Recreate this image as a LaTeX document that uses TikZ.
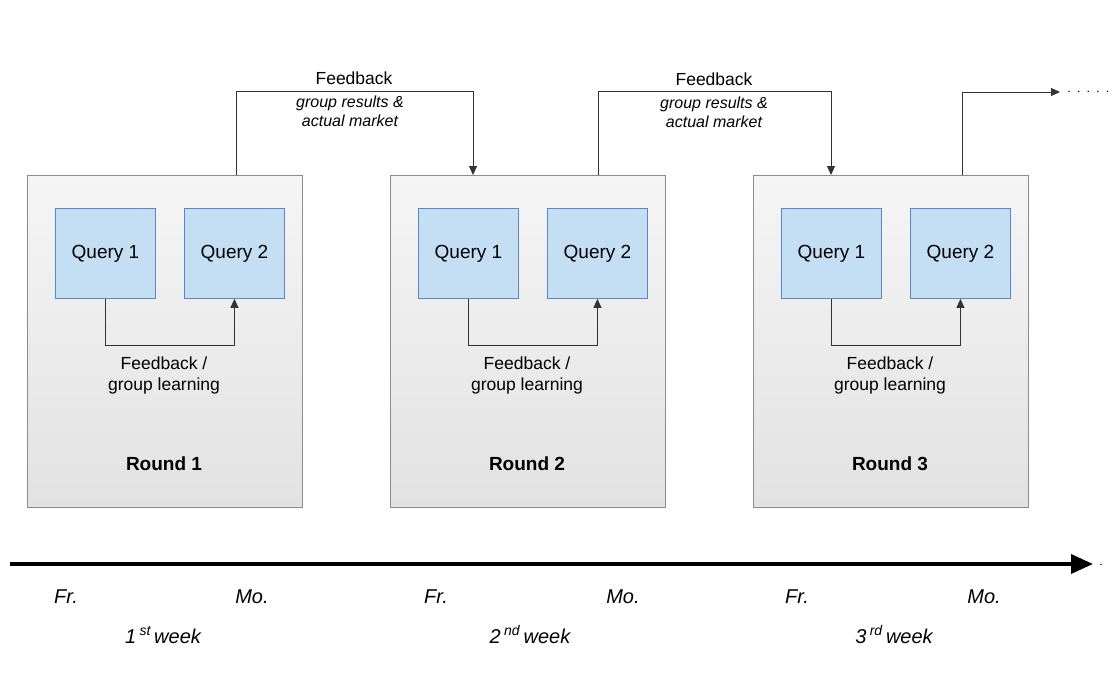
\documentclass[tikz,border=0pt]{standalone}
\usepackage{fontspec}
\setmainfont{Liberation Sans}
\usetikzlibrary{arrows.meta}
\definecolor{roundedge}{HTML}{8C8C8C}
\definecolor{roundtop}{HTML}{F5F5F5}
\definecolor{roundbot}{HTML}{E2E2E2}
\definecolor{queryfill}{HTML}{C4DFF4}
\definecolor{queryedge}{HTML}{5A86DA}
\definecolor{linegray}{HTML}{333333}
\tikzset{
  roundbox/.style={draw=roundedge, line width=1pt, top color=roundtop, bottom color=roundbot,
    minimum width=275pt, minimum height=332pt, inner sep=0pt},
  querybox/.style={draw=queryedge, line width=0.9pt, fill=queryfill,
    minimum width=100pt, minimum height=90pt, inner sep=0pt,
    font=\fontsize{19}{22}\selectfont},
  link/.style={draw=linegray, line width=1pt, -{Triangle[length=9pt,width=8pt]}},
  lbl/.style={font=\fontsize{17.5}{21}\selectfont, align=center, inner sep=0pt},
  sublbl/.style={font=\fontsize{16}{19}\selectfont\itshape, align=center, inner sep=0pt},
  roundlbl/.style={font=\fontsize{19}{22}\selectfont\bfseries, inner sep=0pt},
  daylbl/.style={font=\fontsize{20}{24}\selectfont\itshape, inner sep=0pt},
}
\begin{document}
\begin{tikzpicture}[x=1pt, y=-1pt]
\useasboundingbox (0,0) rectangle (1111,680);
\fill[white] (0,0) rectangle (1111,680);

% three rounds, each with two queries and an inner feedback loop
\foreach \i/\x in {1/27, 2/390, 3/753} {
  \node[roundbox, anchor=north west] (r\i) at (\x,175) {};
  \node[querybox, anchor=north west] (q\i a) at (\x+28,208) {Query 1};
  \node[querybox, anchor=north west] (q\i b) at (\x+157,208) {Query 2};
  \draw[link] (q\i a.south) |- ([yshift=-47pt]q\i b.south) -- (q\i b.south);
  % base of a two-line label sits on its last line
  \node[lbl, anchor=base] (fb\i) at (\x+137,390) {Feedback /\\group learning};
  \node[roundlbl, anchor=base] (rl\i) at (\x+137,470) {Round \i};
}

% feedback between rounds
\coordinate (t1) at (236,91);
\draw[link] (r1.north west -| t1) -- (t1) -| (473,175) coordinate (e1);
\coordinate (t2) at (598,91);
\draw[link] (r2.north west -| t2) -- (t2) -| (831,175) coordinate (e2);
\coordinate (t3) at (962,92);
\coordinate (e3) at (1060,92);
\draw[link] (r3.north west -| t3) -- (t3) -- (e3);
\node[inner sep=0pt, anchor=west, font=\fontsize{14}{14}\selectfont] (dots) at (1067,92) {$\cdot\,\cdot\,\cdot\,\cdot\,\cdot$};

\node[lbl, anchor=base] (fa1) at (354,84) {Feedback};
\node[sublbl, anchor=base] (ga1) at (350,126) {group results \&\\actual market};
\node[lbl, anchor=base] (fa2) at (714,85) {Feedback};
\node[sublbl, anchor=base] (ga2) at (714,127) {group results \&\\actual market};

% time axis
\coordinate (ax0) at (10,564);
\coordinate (ax1) at (1093,564);
\draw[line width=3.6pt, -{Triangle[length=22pt,width=19pt]}] (ax0) -- (ax1);
\node[inner sep=0pt, font=\fontsize{14}{14}\selectfont] (axdot) at (1101,565) {$\cdot$};

\foreach \n/\x/\t in {f1/66/Fr., m1/252/Mo., f2/436/Fr., m2/623/Mo., f3/797/Fr., m3/984/Mo.} {
  \node[daylbl, anchor=base] (\n) at (\x,603) {\t};
}
\node[daylbl, anchor=base] (w1) at (163,643) {1\,\textsuperscript{st}\,week};
\node[daylbl, anchor=base] (w2) at (530,643) {2\,\textsuperscript{nd}\,week};
\node[daylbl, anchor=base] (w3) at (894,643) {3\,\textsuperscript{rd}\,week};
\end{tikzpicture}
\end{document}
